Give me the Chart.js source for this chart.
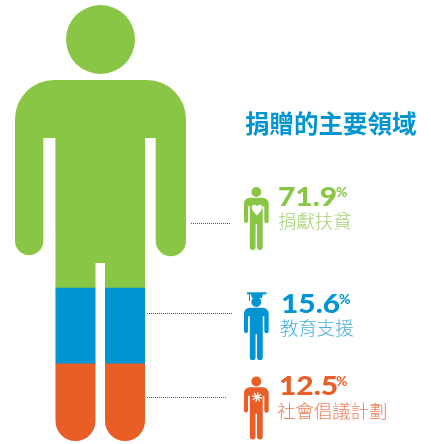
<!DOCTYPE html>
<html lang="zh-Hant"><head><meta charset="utf-8">
<style>html,body{margin:0;padding:0;background:#fff}canvas{display:block}</style>
<script src="https://cdn.jsdelivr.net/npm/chart.js@4"></script></head>
<body><canvas id="c" width="431" height="444"></canvas>
<script>
const chartTitle = '捐贈的主要領域';
const categories = ['捐獻扶貧', '教育支援', '社會倡議計劃'];
const statedPercent = [71.9, 15.6, 12.5];
// Share of the figure's height each colour band occupies in the picture
const drawnShare = [64.9, 17.4, 17.7];
const colors = ['#8AC645', '#0095D2', '#E95D26'];
const softColors = ['#A3D06C', '#42AEDC', '#EE8158'];

function person() {
  const p = new Path2D();
  p.arc(100.5, 39.5, 34.5, 0, Math.PI * 2); p.closePath();
  p.moveTo(15, 119);
  p.arc(54, 119, 39, Math.PI, Math.PI * 1.5);
  p.lineTo(147, 80);
  p.arc(147, 119, 39, Math.PI * 1.5, 0);
  p.lineTo(186, 241);
  p.arc(170.85, 241, 15.15, 0, Math.PI);
  p.lineTo(155.7, 138);
  p.lineTo(145, 138);
  p.lineTo(145, 421);
  p.arc(125, 421, 20, 0, Math.PI);
  p.lineTo(105, 263);
  p.lineTo(95.5, 263);
  p.lineTo(95.5, 421);
  p.arc(75.5, 421, 20, 0, Math.PI);
  p.lineTo(55.4, 138);
  p.lineTo(43.3, 138);
  p.lineTo(43.3, 241);
  p.arc(29.15, 241, 14.15, 0, Math.PI);
  p.closePath();
  return p;
}
const body = person();

function heart(ctx, x, y) {
  ctx.beginPath();
  ctx.moveTo(x, y + 6.5);
  ctx.bezierCurveTo(x - 3, y + 3, x - 5.5, y + 1, x - 5.2, y - 2);
  ctx.bezierCurveTo(x - 5, y - 5, x - 1.2, y - 5, x, y - 2.4);
  ctx.bezierCurveTo(x + 1.2, y - 5, x + 5, y - 5, x + 5.2, y - 2);
  ctx.bezierCurveTo(x + 5.5, y + 1, x + 3, y + 3, x, y + 6.5);
  ctx.fill();
}
function burst(ctx, x, y) {
  ctx.strokeStyle = '#fff'; ctx.lineWidth = 1.3;
  for (let i = 0; i < 8; i++) {
    const a = i * Math.PI / 4 + 0.2;
    ctx.beginPath();
    ctx.moveTo(x + Math.cos(a) * 1.5, y + Math.sin(a) * 1.5);
    ctx.lineTo(x + Math.cos(a) * 5, y + Math.sin(a) * 5);
    ctx.stroke();
  }
  ctx.beginPath(); ctx.arc(x, y, 2, 0, Math.PI * 2); ctx.fill();
}
function cap(ctx, col) {
  ctx.fillStyle = col;
  ctx.fillRect(247, 292.3, 19.5, 2);
  ctx.fillRect(249, 294, 1, 7);
  ctx.beginPath();
  ctx.moveTo(251, 294); ctx.lineTo(263, 294); ctx.lineTo(262, 298); ctx.lineTo(252, 298);
  ctx.closePath(); ctx.fill();
}

const rows = [
  { lead: [191, 231, 224], icon: [241.8, 186.2], num: [278, 206], pct: [336, 197], sub: [278, 228] },
  { lead: [147, 232, 314], icon: [241.8, 296.3], num: [281, 313], pct: [339, 304], sub: [280, 335] },
  { lead: [147, 227, 398], icon: [241.8, 375.7], num: [279, 395], pct: [336, 386], sub: [277, 418] }
];

const silhouette = {
  id: 'silhouette',
  beforeDatasetsDraw(chart) { chart.ctx.save(); chart.ctx.clip(body); },
  afterDatasetsDraw(chart) { chart.ctx.restore(); },
  afterDraw(chart) {
    const ctx = chart.ctx;
    ctx.save();
    ctx.textBaseline = 'alphabetic'; ctx.textAlign = 'left';
    ctx.fillStyle = colors[1];
    ctx.font = '700 24.5px "Noto Sans CJK TC"';
    ctx.fillText(chartTitle, 245, 133);
    categories.forEach((name, i) => {
      const r = rows[i];
      ctx.strokeStyle = '#555'; ctx.lineWidth = 1; ctx.setLineDash([1, 1]);
      ctx.beginPath(); ctx.moveTo(r.lead[0], r.lead[2] - 0.5); ctx.lineTo(r.lead[1], r.lead[2] - 0.5); ctx.stroke();
      ctx.setLineDash([]);
      ctx.save();
      ctx.translate(r.icon[0], r.icon[1]); ctx.scale(0.1445, 0.1445);
      ctx.fillStyle = colors[i]; ctx.fill(body); ctx.restore();
      ctx.fillStyle = '#fff';
      if (i === 0) heart(ctx, 257, 209);
      if (i === 2) burst(ctx, 257, 397);
      if (i === 1) cap(ctx, colors[1]);
      ctx.fillStyle = colors[i];
      ctx.font = '900 26.5px Lato';
      ctx.save();
      ctx.translate(r.num[0], r.num[1]); ctx.scale(1.13, 1);
      ctx.fillText(statedPercent[i].toFixed(1), 0, 0);
      ctx.restore();
      ctx.font = '700 14px Lato';
      ctx.fillText('%', r.pct[0], r.pct[1]);
      ctx.fillStyle = softColors[i];
      ctx.font = '300 18.4px "Noto Sans CJK TC"';
      ctx.fillText(name, r.sub[0], r.sub[1]);
    });
    ctx.restore();
  }
};

new Chart(document.getElementById('c'), {
  type: 'bar',
  data: {
    labels: ['捐贈'],
    datasets: [2, 1, 0].map(i => ({
      label: categories[i],
      data: [drawnShare[i]],
      backgroundColor: colors[i],
      borderWidth: 0,
      barPercentage: 1,
      categoryPercentage: 1
    }))
  },
  options: {
    responsive: false,
    animation: false,
    layout: { padding: { left: 15, right: 244.5, top: 5, bottom: 3 } },
    plugins: { legend: { display: false }, tooltip: { enabled: false }, title: { display: false } },
    scales: {
      x: { display: false, stacked: true },
      y: { display: false, stacked: true, min: 0, max: 100 }
    }
  },
  plugins: [silhouette]
});
</script></body></html>
